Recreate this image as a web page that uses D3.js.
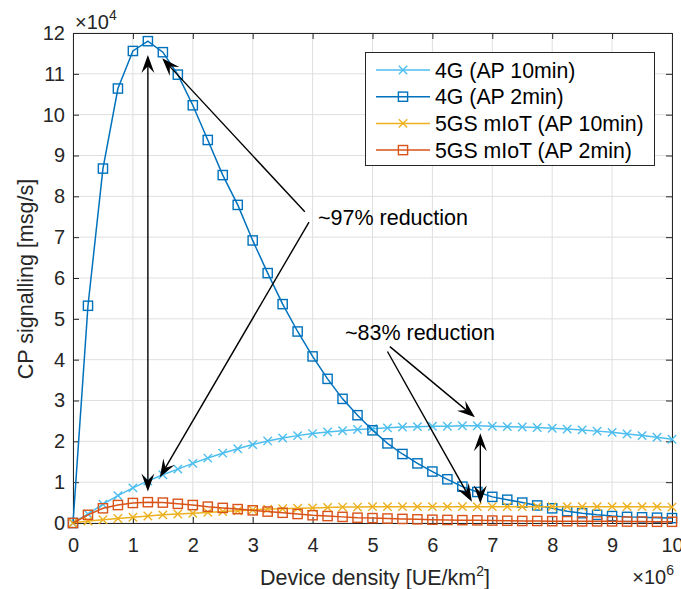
<!DOCTYPE html>
<html><head><meta charset="utf-8">
<script src="https://cdn.jsdelivr.net/npm/d3@7"></script>
<style>
html,body{margin:0;padding:0;background:#fff;}
svg{display:block;font-family:"Liberation Sans",Arial,Helvetica,sans-serif;}
</style></head><body>
<svg id="chart" width="681" height="589"></svg>
<script>
// Device density, in units of 10^6 UE/km^2
const densityM = [0,0.25,0.5,0.75,1,1.25,1.5,1.75,2,2.25,2.5,2.75,3,3.25,3.5,3.75,4,4.25,4.5,4.75,5,5.25,5.5,5.75,6,6.25,6.5,6.75,7,7.25,7.5,7.75,8,8.25,8.5,8.75,9,9.25,9.5,9.75,10];
// CP signalling, in units of 10^4 msg/s
const lteAP10 = [0,0.22,0.46,0.67,0.86,1.03,1.18,1.32,1.46,1.59,1.71,1.82,1.92,2.01,2.08,2.14,2.19,2.23,2.26,2.29,2.31,2.33,2.35,2.36,2.37,2.37,2.38,2.38,2.37,2.36,2.35,2.34,2.32,2.30,2.28,2.25,2.22,2.18,2.14,2.10,2.05];
const lteAP2 = [0,5.32,8.68,10.64,11.56,11.8,11.53,10.98,10.23,9.38,8.52,7.79,6.92,6.12,5.36,4.69,4.08,3.53,3.04,2.64,2.27,1.95,1.69,1.46,1.26,1.07,0.89,0.76,0.64,0.57,0.50,0.43,0.36,0.29,0.24,0.20,0.17,0.15,0.14,0.13,0.12];
const miotAP10 = [0,0.05,0.08,0.11,0.14,0.17,0.20,0.22,0.24,0.26,0.28,0.30,0.32,0.34,0.35,0.36,0.37,0.38,0.39,0.39,0.40,0.40,0.40,0.40,0.40,0.40,0.40,0.40,0.40,0.40,0.40,0.40,0.40,0.40,0.40,0.40,0.40,0.40,0.40,0.40,0.39];
const miotAP2 = [0,0.20,0.36,0.44,0.49,0.51,0.50,0.47,0.44,0.40,0.37,0.34,0.31,0.28,0.25,0.22,0.19,0.17,0.15,0.13,0.12,0.11,0.10,0.09,0.08,0.075,0.07,0.065,0.06,0.055,0.05,0.05,0.045,0.045,0.04,0.04,0.04,0.035,0.035,0.03,0.03];

const seriesNames = ["4G (AP 10min)","4G (AP 2min)","5GS mIoT (AP 10min)","5GS mIoT (AP 2min)"];
const seriesColors = ["#4DBEEE","#0072BD","#EDB120","#D95319"];
const seriesMarkers = ["x","square","x","square"];
const seriesValues = [lteAP10, lteAP2, miotAP10, miotAP2];

const xTicks = [0,1,2,3,4,5,6,7,8,9,10];
const yTicks = [0,1,2,3,4,5,6,7,8,9,10,11,12];
const xExponent = "6";
const yExponent = "4";
const yLabelText = "CP signalling [msg/s]";

// annotations (data units)
const notes = [
  {text:"~97% reduction", x:4.09, y:7.30},
  {text:"~83% reduction", x:4.54, y:4.48}
];
const arrows = [
  {x1:1.25, y1:0.77, x2:1.25, y2:11.46, both:true},
  {x1:3.87, y1:7.62, x2:1.49, y2:11.38},
  {x1:3.94, y1:7.37, x2:1.45, y2:1.12},
  {x1:5.29, y1:4.32, x2:6.71, y2:2.59},
  {x1:5.25, y1:4.20, x2:6.66, y2:0.52},
  {x1:6.80, y1:0.48, x2:6.80, y2:2.20, both:true}
];

const svg = d3.select("#chart");
const M = {left:73, right:672, top:33, bottom:523};
const x = d3.scaleLinear().domain([0,10]).range([M.left, M.right]);
const y = d3.scaleLinear().domain([0,12]).range([M.bottom, M.top]);
const axisColor = "#262626";
const tickFont = 20;

// grid
const grid = svg.append("g");
grid.selectAll("line.gx").data(xTicks).join("line")
  .attr("x1", d=>x(d)).attr("x2", d=>x(d)).attr("y1", M.top).attr("y2", M.bottom)
  .attr("stroke","#dfdfdf").attr("stroke-width",1);
grid.selectAll("line.gy").data(yTicks).join("line")
  .attr("y1", d=>y(d)).attr("y2", d=>y(d)).attr("x1", M.left).attr("x2", M.right)
  .attr("stroke","#dfdfdf").attr("stroke-width",1);

// axes (inward ticks on all four sides)
function styleAxis(g){
  g.select(".domain").attr("stroke", axisColor).attr("stroke-width",1);
  g.selectAll(".tick line").attr("stroke", axisColor);
  g.selectAll(".tick text").attr("fill", axisColor).attr("font-size", tickFont)
    .attr("font-family",'"Liberation Sans",Arial,Helvetica,sans-serif');
}
const xAxis = svg.append("g").attr("transform",`translate(0,${M.bottom})`)
  .call(d3.axisBottom(x).tickValues(xTicks).tickFormat(d3.format("d")).tickSizeInner(-6).tickSizeOuter(0).tickPadding(15));
styleAxis(xAxis);
const xAxisTop = svg.append("g").attr("transform",`translate(0,${M.top})`)
  .call(d3.axisTop(x).tickValues(xTicks).tickFormat("").tickSizeInner(-6).tickSizeOuter(0));
styleAxis(xAxisTop);
const yAxis = svg.append("g").attr("transform",`translate(${M.left},0)`)
  .call(d3.axisLeft(y).tickValues(yTicks).tickFormat(d3.format("d")).tickSizeInner(-6).tickSizeOuter(0).tickPadding(8));
styleAxis(yAxis);
const yAxisRight = svg.append("g").attr("transform",`translate(${M.right},0)`)
  .call(d3.axisRight(y).tickValues(yTicks).tickFormat("").tickSizeInner(-6).tickSizeOuter(0));
styleAxis(yAxisRight);

// exponent labels
const e4 = svg.append("text").attr("x", M.left+2).attr("y", 29).attr("fill", axisColor).attr("font-size", tickFont);
e4.append("tspan").text("\u00d710");
e4.append("tspan").attr("dy",-9).attr("font-size",14).text(yExponent);
const e6 = svg.append("text").attr("x", M.right+2).attr("y", 584).attr("text-anchor","end").attr("fill", axisColor).attr("font-size", tickFont);
e6.append("tspan").text("\u00d710");
e6.append("tspan").attr("dy",-9).attr("font-size",14).text(xExponent);

// axis labels
const xl = svg.append("text").attr("x", 375).attr("y", 585).attr("text-anchor","middle")
  .attr("fill", axisColor).attr("font-size", 21.5);
xl.append("tspan").text("Device density [UE/km");
xl.append("tspan").attr("dy",-9).attr("font-size",14).text("2");
xl.append("tspan").attr("dy",9).text("]");
svg.append("text").attr("transform","translate(33,279) rotate(-90)").attr("text-anchor","middle")
  .attr("fill", axisColor).attr("font-size", 21.5).text(yLabelText);

// series
function drawMarker(g, type, color){
  if(type==="square"){
    g.append("rect").attr("x",-4.6).attr("y",-4.6).attr("width",9.2).attr("height",9.2)
      .attr("fill","none").attr("stroke",color).attr("stroke-width",1.4);
  } else {
    g.append("path").attr("d","M-4.2,-4.2L4.2,4.2M-4.2,4.2L4.2,-4.2")
      .attr("fill","none").attr("stroke",color).attr("stroke-width",1.4);
  }
}
const line = d3.line().x(d=>x(d[0])).y(d=>y(d[1]));
seriesValues.forEach((vals,i)=>{
  const pts = densityM.map((d,j)=>[d, vals[j]]);
  const g = svg.append("g");
  g.append("path").datum(pts).attr("d", line).attr("fill","none")
    .attr("stroke", seriesColors[i]).attr("stroke-width",1.5);
  g.selectAll("g.m").data(pts).join("g").attr("transform", d=>`translate(${x(d[0])},${y(d[1])})`)
    .each(function(){ drawMarker(d3.select(this), seriesMarkers[i], seriesColors[i]); });
});

// annotations
const ann = svg.append("g");
function arrowHead(tx,ty,ux,uy){
  const L=18, W=13, nx=-uy, ny=ux;
  const bx=tx-L*ux, by=ty-L*uy;
  const p = [[tx,ty],[bx+nx*W/2,by+ny*W/2],[tx-0.62*L*ux,ty-0.62*L*uy],[bx-nx*W/2,by-ny*W/2]];
  ann.append("path").attr("d","M"+p.map(q=>q.join(",")).join("L")+"Z").attr("fill","#000");
}
arrows.forEach(a=>{
  const X1=x(a.x1), Y1=y(a.y1), X2=x(a.x2), Y2=y(a.y2);
  const len=Math.hypot(X2-X1,Y2-Y1), ux=(X2-X1)/len, uy=(Y2-Y1)/len;
  const s = a.both ? 10 : 0;
  ann.append("line").attr("x1",X1+ux*s).attr("y1",Y1+uy*s).attr("x2",X2-ux*10).attr("y2",Y2-uy*10)
    .attr("stroke","#000").attr("stroke-width",1.4);
  arrowHead(X2,Y2,ux,uy);
  if(a.both) arrowHead(X1,Y1,-ux,-uy);
});
notes.forEach(n=>{
  ann.append("text").attr("x", x(n.x)).attr("y", y(n.y)).attr("fill","#000")
    .attr("font-size",21.5).text(n.text);
});

// legend
const lg = svg.append("g");
lg.append("rect").attr("x",365.5).attr("y",52.5).attr("width",289).attr("height",113)
  .attr("fill","#fff").attr("stroke",axisColor).attr("stroke-width",1);
seriesNames.forEach((name,i)=>{
  const cy = 70 + i*26.7;
  lg.append("line").attr("x1",376).attr("x2",430).attr("y1",cy).attr("y2",cy)
    .attr("stroke",seriesColors[i]).attr("stroke-width",1.5);
  drawMarker(lg.append("g").attr("transform",`translate(403,${cy})`), seriesMarkers[i], seriesColors[i]);
  lg.append("text").attr("x",435).attr("y",cy+7.5).attr("fill","#000").attr("font-size",21.3).text(name);
});
</script>
</body></html>
